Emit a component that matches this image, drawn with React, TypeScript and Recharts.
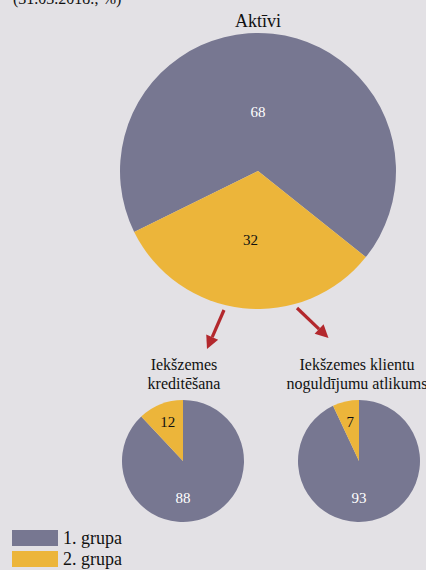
import React from "react";
import { PieChart, Pie, Cell } from "recharts";

// grupas un krāsas
const GROUPS = ["1. grupa", "2. grupa"];
const COLORS = ["#777791", "#ecb53a"];

// vērtības, %
const ASSETS = [68, 32];
const LENDING = [88, 12];
const DEPOSITS = [93, 7];

const FONT = "Liberation Serif, Tinos, DejaVu Serif, serif";
const RAD = Math.PI / 180;

const toData = (vals: number[]) =>
  vals.map((v, i) => ({ name: GROUPS[i], value: v }));

/** Etiķete: lielākajai daļai fiksēts leņķis, mazākajai — sektora vidus */
function sliceLabel(fixed: (number | null)[], radii: number[]) {
  return (p: any) => {
    const angle = fixed[p.index] ?? p.midAngle;
    const r = p.outerRadius * radii[p.index];
    const x = p.cx + r * Math.cos(-angle * RAD);
    const y = p.cy + r * Math.sin(-angle * RAD);
    return (
      <text
        x={x}
        y={y}
        fill={p.index === 0 ? "#ffffff" : "#111111"}
        textAnchor="middle"
        dominantBaseline="central"
        style={{ fontFamily: FONT, fontSize: 15 }}
      >
        {p.value}
      </text>
    );
  };
}

function Arrow({ x1, y1, x2, y2 }: { x1: number; y1: number; x2: number; y2: number }) {
  const len = Math.hypot(x2 - x1, y2 - y1);
  const ux = (x2 - x1) / len;
  const uy = (y2 - y1) / len;
  const head = 13;
  const half = 6.5;
  const bx = x2 - ux * head;
  const by = y2 - uy * head;
  const pts = `${x2},${y2} ${bx - uy * half},${by + ux * half} ${bx + uy * half},${by - ux * half}`;
  return (
    <g>
      <line x1={x1} y1={y1} x2={bx} y2={by} stroke="#b3282d" strokeWidth={3.2} />
      <polygon points={pts} fill="#b3282d" />
    </g>
  );
}

export default function App() {
  return (
    <div
      style={{
        position: "relative",
        width: 426,
        height: 570,
        background: "#e3e1e5",
        overflow: "hidden",
        fontFamily: FONT,
      }}
    >
      <style>{"body{margin:0} svg text{font-family:" + FONT + "}"}</style>
      <PieChart width={426} height={570} margin={{ top: 0, right: 0, bottom: 0, left: 0 }}>
        <Pie
          data={toData(ASSETS)}
          dataKey="value"
          cx={258}
          cy={171}
          outerRadius={138}
          startAngle={206.2}
          endAngle={-153.8}
          stroke="none"
          labelLine={false}
          label={sliceLabel([90, null], [0.43, 0.5])}
          isAnimationActive={false}
        >
          {ASSETS.map((_, i) => (
            <Cell key={i} fill={COLORS[i]} />
          ))}
        </Pie>
        <Pie
          data={toData(LENDING)}
          dataKey="value"
          cx={183}
          cy={461}
          outerRadius={61}
          startAngle={90}
          endAngle={-270}
          stroke="none"
          labelLine={false}
          label={sliceLabel([-90, null], [0.6, 0.68])}
          isAnimationActive={false}
        >
          {LENDING.map((_, i) => (
            <Cell key={i} fill={COLORS[i]} />
          ))}
        </Pie>
        <Pie
          data={toData(DEPOSITS)}
          dataKey="value"
          cx={359}
          cy={461}
          outerRadius={61}
          startAngle={90}
          endAngle={-270}
          stroke="none"
          labelLine={false}
          label={sliceLabel([-90, null], [0.6, 0.65])}
          isAnimationActive={false}
        >
          {DEPOSITS.map((_, i) => (
            <Cell key={i} fill={COLORS[i]} />
          ))}
        </Pie>
      </PieChart>

      {/* virsraksti, bultas un leģenda */}
      <svg
        width={426}
        height={570}
        style={{ position: "absolute", left: 0, top: 0, pointerEvents: "none" }}
        fill="#111111"
      >
        <text x={13} y={4} fontSize={16}>(31.03.2018.; %)</text>
        <text x={258} y={27} fontSize={18} textAnchor="middle">Aktīvi</text>

        <Arrow x1={224} y1={310} x2={207} y2={349} />
        <Arrow x1={297} y1={308} x2={328.5} y2={338} />

        <text x={184} y={370} fontSize={16} textAnchor="middle">Iekšzemes</text>
        <text x={184} y={389} fontSize={16} textAnchor="middle">kreditēšana</text>
        <text x={357} y={370} fontSize={16} textAnchor="middle">Iekšzemes klientu</text>
        <text x={357} y={389} fontSize={16} textAnchor="middle">noguldījumu atlikums</text>

        {GROUPS.map((g, i) => (
          <g key={g}>
            <rect x={12} y={530 + i * 21} width={46} height={16} fill={COLORS[i]} />
            <text x={63} y={544 + i * 21} fontSize={18}>{g}</text>
          </g>
        ))}
      </svg>
    </div>
  );
}
